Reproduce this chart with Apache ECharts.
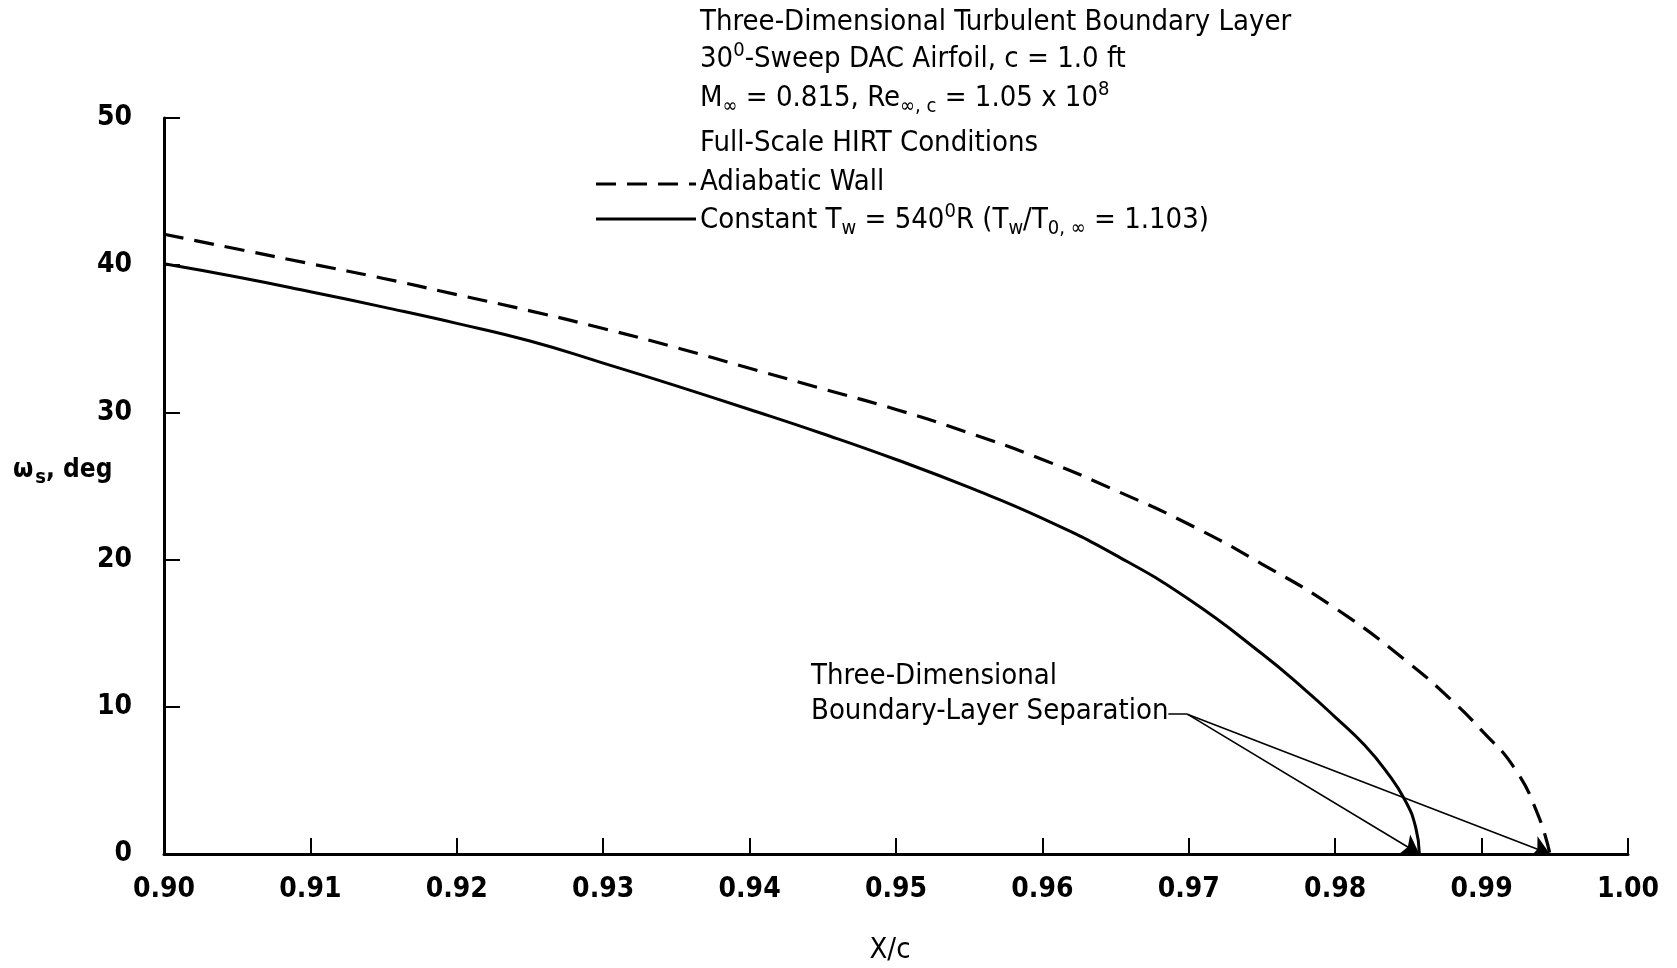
<!DOCTYPE html>
<html>
<head>
<meta charset="utf-8">
<script src="https://cdn.jsdelivr.net/npm/echarts@6/dist/echarts.min.js"></script>
<style>
html,body{margin:0;padding:0;background:#fff;}
#c{width:1677px;height:968px;}
</style>
</head>
<body>
<div id="c"></div>
<script>
// ---- data ----
const xTickValues = [0.90,0.91,0.92,0.93,0.94,0.95,0.96,0.97,0.98,0.99,1.00];
const yTickValues = [0,10,20,30,40,50];

// Constant Tw = 540 R (solid)
const solidX = [0.900,0.905,0.910,0.915,0.920,0.925,0.930,0.935,0.940,0.945,0.950,0.955,0.960,0.965,0.970,0.975,0.978,0.980,0.982,0.9835,0.9848,0.9855,0.98575];
const solidY = [40.1,39.2,38.2,37.15,36.05,34.85,33.35,31.8,30.2,28.55,26.8,24.9,22.8,20.3,17.3,13.6,11.1,9.3,7.4,5.6,3.6,1.8,0];

// Adiabatic wall (dashed)
const dashX = [0.900,0.905,0.910,0.915,0.920,0.925,0.930,0.935,0.940,0.945,0.950,0.955,0.960,0.965,0.970,0.975,0.980,0.985,0.988,0.990,0.9922,0.9938,0.99467];
const dashY = [42.1,41.1,40.1,39.1,38.0,36.9,35.7,34.4,33.0,31.6,30.2,28.6,26.8,24.7,22.4,19.7,16.7,13.0,10.4,8.4,5.9,2.8,0];

// annotation leader origin (data coords)
const annoOrigin = [0.9699, 9.5];
const annoLeaderStart = [0.9686, 9.5];

const FONT = '"DejaVu Sans Condensed","Liberation Sans Narrow","Arial Narrow",sans-serif';

const solidData = solidX.map((x,i)=>[x, solidY[i]]);
const dashData = dashX.map((x,i)=>[x, dashY[i]]);

const chart = echarts.init(document.getElementById('c'), null, {renderer:'canvas'});

const richBase = {
  sub: {fontFamily: FONT, fontSize: 20, padding: [17,0,0,0], color:'#000'},
  sup: {fontFamily: FONT, fontSize: 20, padding: [0,0,17,0], color:'#000'}
};
function txt(x, y, text, opts) {
  opts = opts || {};
  return {
    type: 'text', x: x, y: y, silent: true,
    style: Object.assign({
      text: text, fontFamily: FONT, fontSize: 29, fill: '#000',
      verticalAlign: 'middle', align: 'left', rich: richBase
    }, opts)
  };
}

const option = {
  backgroundColor: '#fff',
  animation: false,
  grid: {left: 164, right: 49, top: 118, bottom: 114, containLabel: false},
  xAxis: {
    type: 'value', min: 0.90, max: 1.00, interval: 0.01,
    axisLine: {show: true, onZero: false, lineStyle: {color:'#000', width: 3}},
    axisTick: {show: true, inside: true, length: 16, lineStyle: {color:'#000', width: 2}},
    axisLabel: {color:'#000', fontFamily: FONT, fontSize: 28, fontWeight: 'bold', margin: 22,
      formatter: v => v.toFixed(2)},
    splitLine: {show: false}
  },
  yAxis: {
    type: 'value', min: 0, max: 50, interval: 10,
    axisLine: {show: true, lineStyle: {color:'#000', width: 3}},
    axisTick: {show: true, inside: true, length: 16, lineStyle: {color:'#000', width: 2}},
    axisLabel: {color:'#000', fontFamily: FONT, fontSize: 28, fontWeight: 'bold', margin: 32},
    splitLine: {show: false}
  },
  series: [
    {
      name: 'Adiabatic Wall', type: 'line', data: dashData, smooth: 0.5,
      showSymbol: false, silent: true,
      lineStyle: {color:'#000', width: 3.2, type: [20, 11]}
    },
    {
      name: 'Constant Tw', type: 'line', data: solidData, smooth: 0.5,
      showSymbol: false, silent: true,
      lineStyle: {color:'#000', width: 3}
    },
    {
      name: 'annotation', type: 'lines', coordinateSystem: 'cartesian2d', silent: true,
      symbol: ['none', 'arrow'], symbolSize: [9, 18],
      lineStyle: {color:'#000', width: 1.6, opacity: 1},
      data: [
        {coords: [annoOrigin, solidData[solidData.length-1]]},
        {coords: [annoOrigin, dashData[dashData.length-1]]}
      ]
    },
    {
      name: 'leader', type: 'lines', coordinateSystem: 'cartesian2d', silent: true,
      symbol: ['none', 'none'],
      lineStyle: {color:'#000', width: 1.6, opacity: 1},
      data: [{coords: [annoLeaderStart, annoOrigin]}]
    }
  ],
  graphic: [
    txt(700, 22, 'Three-Dimensional Turbulent Boundary Layer'),
    txt(700, 59, '30{sup|0}-Sweep DAC Airfoil, c = 1.0 ft'),
    txt(700, 98, 'M{sub|∞} = 0.815, Re{sub|∞, c} = 1.05 x 10{sup|8}'),
    txt(700, 143, 'Full-Scale HIRT Conditions'),
    txt(700, 182, 'Adiabatic Wall'),
    txt(700, 220, 'Constant T{sub|w} = 540{sup|0}R (T{sub|w}/T{sub|0, ∞} = 1.103)'),
    {type:'line', silent:true, shape:{x1:596, y1:184, x2:696, y2:184},
      style:{stroke:'#000', lineWidth:3.2, lineDash:[20,11]}},
    {type:'line', silent:true, shape:{x1:596, y1:219, x2:696, y2:219},
      style:{stroke:'#000', lineWidth:3}},
    txt(811, 676, 'Three-Dimensional'),
    txt(811, 711, 'Boundary-Layer Separation'),
    txt(13, 470, 'ω{sub|s}, deg', {fontWeight:'bold', fontSize: 26,
      rich:{sub:{fontFamily: FONT, fontSize: 20, fontWeight:'bold', padding:[16,0,0,2]}}}),
    txt(890, 950, 'X/c', {align:'center', fontSize: 29})
  ]
};
chart.setOption(option);
</script>
</body>
</html>
